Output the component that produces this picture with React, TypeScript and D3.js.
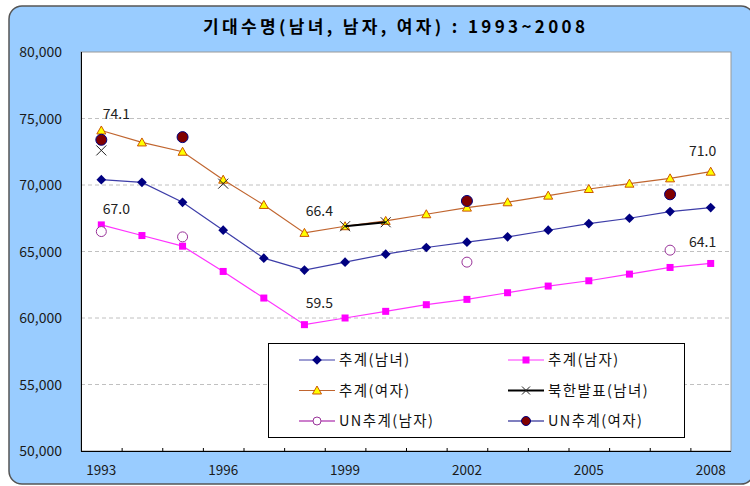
import { useEffect, useRef } from "react"
import * as d3 from "d3"

const years = [1993, 1994, 1995, 1996, 1997, 1998, 1999, 2000, 2001, 2002, 2003, 2004, 2005, 2006, 2007, 2008]
const yearLabels = [1993, 1996, 1999, 2002, 2005, 2008]
const yTicks = [50, 55, 60, 65, 70, 75, 80]

// 추계
const total = [70.4, 70.2, 68.7, 66.6, 64.5, 63.6, 64.2, 64.8, 65.3, 65.7, 66.1, 66.6, 67.1, 67.5, 68.0, 68.3]
const male = [67.0, 66.2, 65.4, 63.5, 61.5, 59.5, 60.0, 60.5, 61.0, 61.4, 61.9, 62.4, 62.8, 63.3, 63.8, 64.1]
const female = [74.1, 73.2, 72.5, 70.4, 68.5, 66.4, 66.9, 67.3, 67.8, 68.3, 68.7, 69.2, 69.7, 70.1, 70.5, 71.0]
// 북한발표, UN추계
const nkReport = [72.6, null, null, 70.1, null, null, 66.9, 67.2, null, null, null, null, null, null, null, null]
const unMale = [66.5, null, 66.1, null, null, null, null, null, null, 64.2, null, null, null, null, 65.1, null]
const unFemale = [73.4, null, 73.6, null, null, null, null, null, null, 68.8, null, null, null, null, 69.3, null]

// 값 표시 (시리즈, 연도)
const valueLabels = [
  { s: "female", year: 1993 },
  { s: "female", year: 1998 },
  { s: "female", year: 2008 },
  { s: "male", year: 1993 },
  { s: "male", year: 1998 },
  { s: "male", year: 2008 },
]

const W = 750
const H = 486
const FONT = "'Noto Sans CJK KR', 'Noto Sans', sans-serif"

export default function App() {
  const ref = useRef<SVGSVGElement>(null)

  useEffect(() => {
    const svg = d3.select(ref.current)
    svg.selectAll("*").remove()

    const plot = { l: 81, r: 731, t: 52, b: 451 }
    const x = d3.scaleBand<number>().domain(years).range([plot.l, plot.r])
    const cx = (yr: number) => (x(yr) ?? 0) + x.bandwidth() / 2
    const y = d3.scaleLinear().domain([50, 80]).range([plot.b, plot.t])

    // 바깥 배경
    svg.append("rect")
      .attr("x", 9).attr("y", 6).attr("width", 745).attr("height", 478)
      .attr("rx", 13)
      .attr("fill", "#99ccff").attr("stroke", "#555").attr("stroke-width", 1.5)

    svg.append("text")
      .attr("x", 394).attr("y", 33)
      .attr("text-anchor", "middle")
      .attr("font-family", FONT).attr("font-size", 17).attr("font-weight", "bold")
      .attr("textLength", 382).attr("lengthAdjust", "spacing")
      .text("기대수명(남녀, 남자, 여자) : 1993~2008")

    svg.append("rect")
      .attr("x", plot.l).attr("y", plot.t)
      .attr("width", plot.r - plot.l).attr("height", plot.b - plot.t)
      .attr("fill", "#fff").attr("stroke", "#999")

    // 격자
    svg.append("g").selectAll("line")
      .data(yTicks.filter((v) => v > 50 && v < 80))
      .enter().append("line")
      .attr("x1", plot.l).attr("x2", plot.r)
      .attr("y1", (d) => y(d)).attr("y2", (d) => y(d))
      .attr("stroke", "#c0c0c0").attr("stroke-dasharray", "4,3")

    // 축
    svg.append("line").attr("x1", plot.l + 0.5).attr("x2", plot.l + 0.5)
      .attr("y1", plot.t).attr("y2", plot.b).attr("stroke", "#000")
    svg.append("line").attr("x1", plot.l).attr("x2", plot.r)
      .attr("y1", plot.b + 0.5).attr("y2", plot.b + 0.5).attr("stroke", "#000")

    svg.append("g").selectAll("line")
      .data(years.slice(1))
      .enter().append("line")
      .attr("x1", (d) => (x(d) ?? 0) + 0.5).attr("x2", (d) => (x(d) ?? 0) + 0.5)
      .attr("y1", plot.b - 3).attr("y2", plot.b)
      .attr("stroke", "#000")

    svg.append("g").selectAll("text")
      .data(yTicks)
      .enter().append("text")
      .attr("x", 62).attr("y", (d) => y(d) + 5)
      .attr("text-anchor", "end")
      .attr("font-family", FONT).attr("font-size", 14).attr("fill", "#1a1a1a")
      .text((d) => `${d},000`)

    svg.append("g").selectAll("text")
      .data(yearLabels)
      .enter().append("text")
      .attr("x", (d) => cx(d)).attr("y", 475)
      .attr("text-anchor", "middle")
      .attr("font-family", FONT).attr("font-size", 13.5).attr("fill", "#1a1a1a")
      .text((d) => d)

    const pts = (vals: (number | null)[]) =>
      vals.map((v, i) => ({ yr: years[i], v })).filter((d) => d.v != null) as { yr: number; v: number }[]

    const line = d3.line<number | null>()
      .defined((d) => d != null)
      .x((_, i) => cx(years[i]))
      .y((d) => y(d as number))

    const g = svg.append("g")

    const drawLine = (vals: (number | null)[], color: string, w: number) =>
      g.append("path").attr("d", line(vals)).attr("fill", "none")
        .attr("stroke", color).attr("stroke-width", w)

    const diamond = d3.symbol().type(d3.symbolDiamond2).size(60)
    const tri = "M0,-4.5L4.5,3.5L-4.5,3.5Z"

    // 추계(남녀)
    drawLine(total, "#3d3da8", 1.2)
    g.append("g").selectAll("path").data(pts(total)).enter().append("path")
      .attr("d", diamond)
      .attr("transform", (d) => `translate(${cx(d.yr)},${y(d.v)})`)
      .attr("fill", "#000080")

    // 추계(남자)
    drawLine(male, "#ff33ff", 1.2)
    g.append("g").selectAll("rect").data(pts(male)).enter().append("rect")
      .attr("x", (d) => cx(d.yr) - 3.5).attr("y", (d) => y(d.v) - 3.5)
      .attr("width", 7).attr("height", 7)
      .attr("fill", "#ff00ff")

    // 추계(여자)
    drawLine(female, "#c0652f", 1.2)
    g.append("g").selectAll("path").data(pts(female)).enter().append("path")
      .attr("d", tri)
      .attr("transform", (d) => `translate(${cx(d.yr)},${y(d.v)})`)
      .attr("fill", "#ffff00").attr("stroke", "#cc5500").attr("stroke-width", 1)

    // 북한발표(남녀)
    drawLine(nkReport, "#000", 2.2)
    g.append("g").selectAll("path").data(pts(nkReport)).enter().append("path")
      .attr("d", "M-5,-5L5,5M5,-5L-5,5")
      .attr("transform", (d) => `translate(${cx(d.yr)},${y(d.v)})`)
      .attr("stroke", "#222").attr("stroke-width", 1)

    // UN추계(남자)
    g.append("g").selectAll("circle").data(pts(unMale)).enter().append("circle")
      .attr("cx", (d) => cx(d.yr)).attr("cy", (d) => y(d.v)).attr("r", 5)
      .attr("fill", "#fff").attr("stroke", "#993399").attr("stroke-width", 1)

    // UN추계(여자)
    g.append("g").selectAll("circle").data(pts(unFemale)).enter().append("circle")
      .attr("cx", (d) => cx(d.yr)).attr("cy", (d) => y(d.v)).attr("r", 5.5)
      .attr("fill", "#800000").attr("stroke", "#000080").attr("stroke-width", 1)

    // 값 표시
    const seriesMap: Record<string, number[]> = { female, male }
    svg.append("g").selectAll("text")
      .data(valueLabels)
      .enter().append("text")
      .attr("x", (d) => cx(d.year) + (d.year === 2008 ? -8 : 15))
      .attr("y", (d) => y(seriesMap[d.s][years.indexOf(d.year)]) + (d.year === 2008 ? -16 : d.year === 1993 ? -11 : -17))
      .attr("text-anchor", "middle")
      .attr("font-family", FONT).attr("font-size", 14).attr("fill", "#222")
      .text((d) => seriesMap[d.s][years.indexOf(d.year)].toFixed(1))

    // 범례
    const legend = [
      { name: "추계(남녀)", color: "#3d3da8", w: 1.2, mark: "diamond" },
      { name: "추계(남자)", color: "#ff33ff", w: 1.2, mark: "square" },
      { name: "추계(여자)", color: "#c0652f", w: 1.2, mark: "tri" },
      { name: "북한발표(남녀)", color: "#000", w: 2.2, mark: "x" },
      { name: "UN추계(남자)", color: "#990099", w: 1.2, mark: "open" },
      { name: "UN추계(여자)", color: "#000080", w: 1.2, mark: "dot" },
    ]
    const lg = svg.append("g")
    lg.append("rect").attr("x", 268.5).attr("y", 343.5).attr("width", 416).attr("height", 94)
      .attr("fill", "#fff").attr("stroke", "#000")
    legend.forEach((it, i) => {
      const col = i % 2
      const row = Math.floor(i / 2)
      const lx = col === 0 ? 299 : 508
      const ly = 360 + row * 30.5
      const item = lg.append("g").attr("transform", `translate(${lx},${ly})`)
      item.append("line").attr("x1", 0).attr("x2", 36).attr("y1", 0).attr("y2", 0)
        .attr("stroke", it.color).attr("stroke-width", it.w)
      const m = item.append("g").attr("transform", "translate(18,0)")
      if (it.mark === "diamond") m.append("path").attr("d", diamond).attr("fill", "#000080")
      if (it.mark === "square") m.append("rect").attr("x", -3.5).attr("y", -3.5).attr("width", 7).attr("height", 7).attr("fill", "#ff00ff")
      if (it.mark === "tri") m.append("path").attr("d", tri).attr("fill", "#ffff00").attr("stroke", "#cc5500")
      if (it.mark === "x") m.append("path").attr("d", "M-4,-4L4,4M4,-4L-4,4").attr("stroke", "#222")
      if (it.mark === "open") m.append("circle").attr("r", 4).attr("fill", "#fff").attr("stroke", "#993399")
      if (it.mark === "dot") m.append("circle").attr("r", 4.5).attr("fill", "#800000").attr("stroke", "#000080")
      item.append("text").attr("x", 40).attr("y", 5)
        .attr("font-family", FONT).attr("font-size", 14.5).attr("fill", "#111")
        .attr("letter-spacing", 1.4)
        .text(it.name)
    })
  }, [])

  return (
    <svg
      ref={ref}
      width={W}
      height={H}
      style={{ position: "absolute", left: 0, top: 0, background: "#fff" }}
    />
  )
}
